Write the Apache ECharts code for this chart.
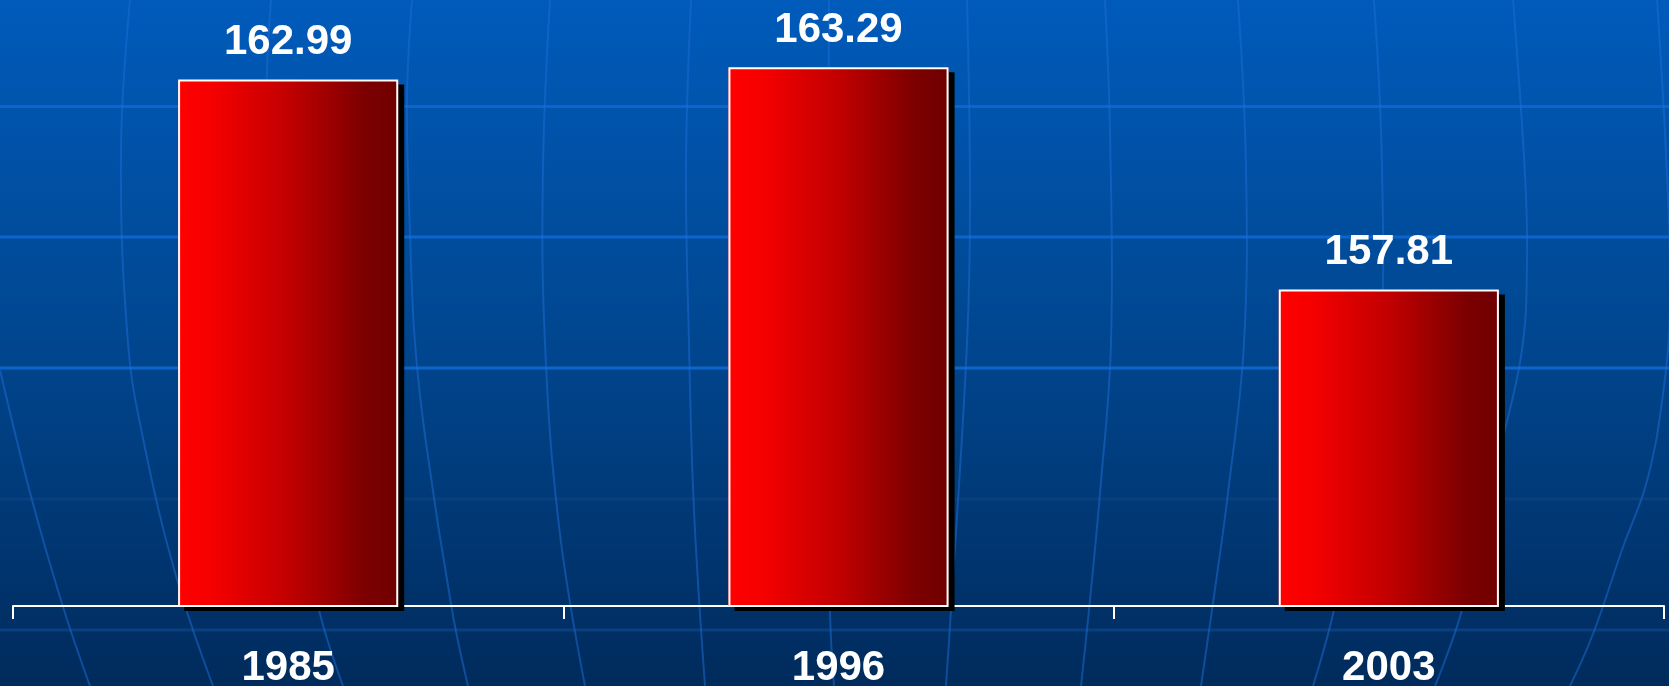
<!DOCTYPE html>
<html>
<head>
<meta charset="utf-8">
<title>Bar chart</title>
<script src="https://cdn.jsdelivr.net/npm/echarts@6/dist/echarts.min.js"></script>
<style>
  html, body { margin: 0; padding: 0; }
  #chart { width: 1669px; height: 686px; }
</style>
</head>
<body>
<div id="chart"></div>
<script>
// data
const categories = ['1985', '1996', '2003'];
const values = [162.99, 163.29, 157.81];
const yMin = 150;
const yMax = 165;

// background decoration (globe grid)
const hLines = [
  { y: 106.5, color: '#0a66cc' },
  { y: 237, color: '#0a66cc' },
  { y: 368, color: '#0a66cc' },
  { y: 499, color: '#0b3f80' },
  { y: 630, color: '#0b3f80' }
];
const meridians = [
  [[0, 370], [32, 500], [64, 610], [90, 686]],
  [[130, 0], [121, 150], [128, 343], [144, 443], [176, 576], [213, 686]],
  [[271, 0], [266, 120], [272, 300], [292, 480], [319, 610], [343, 686]],
  [[412, 0], [407, 100], [410, 233], [415, 343], [426, 443], [452, 610], [468, 686]],
  [[550, 0], [543, 167], [545, 343], [559, 526], [585, 686]],
  [[691, 0], [686, 167], [689, 343], [694, 510], [705, 686]],
  [[829, 0], [828, 343], [830, 610], [834, 686]],
  [[967, 0], [970, 200], [967, 343], [951, 610], [946, 686]],
  [[1105, 0], [1110, 133], [1111, 343], [1100, 493], [1089, 610], [1081, 686]],
  [[1238, 0], [1246, 167], [1244, 343], [1228, 493], [1212, 610], [1201, 686]],
  [[1374, 0], [1382, 167], [1380, 343], [1360, 480], [1334, 610], [1313, 686]],
  [[1513, 0], [1525, 175], [1527, 262], [1522, 350], [1500, 450], [1462, 610], [1435, 686]],
  [[1657, 0], [1667, 175], [1670, 306], [1663, 394], [1647, 481], [1623, 547], [1593, 634], [1570, 686]]
];

const myChart = echarts.init(document.getElementById('chart'));

const graphics = [];
hLines.forEach((l) => {
  graphics.push({
    type: 'line',
    z: -10,
    silent: true,
    shape: { x1: 0, y1: l.y, x2: 1669, y2: l.y },
    style: { stroke: l.color, lineWidth: 3 }
  });
});
meridians.forEach((pts) => {
  graphics.push({
    type: 'polyline',
    z: -10,
    silent: true,
    shape: { points: pts, smooth: 0.4 },
    style: { stroke: 'rgba(30, 110, 215, 0.5)', lineWidth: 2, fill: null }
  });
});

const option = {
  backgroundColor: new echarts.graphic.LinearGradient(0, 0, 0, 1, [
    { offset: 0, color: '#005bbb' },
    { offset: 0.5, color: '#00468f' },
    { offset: 1, color: '#002b5c' }
  ]),
  animation: false,
  graphic: graphics,
  grid: {
    left: 13,
    right: 5,
    top: -2,
    bottom: 80,
    outerBoundsMode: 'none',
    containLabel: false
  },
  xAxis: {
    type: 'category',
    data: categories,
    axisLine: {
      show: true,
      lineStyle: { color: '#ffffff', width: 2 }
    },
    axisTick: {
      show: true,
      alignWithLabel: false,
      length: 13,
      lineStyle: { color: '#ffffff', width: 2 }
    },
    axisLabel: {
      margin: 41,
      color: '#ffffff',
      fontFamily: 'Liberation Sans, Arial, sans-serif',
      fontWeight: 'bold',
      fontSize: 42
    }
  },
  yAxis: {
    type: 'value',
    min: yMin,
    max: yMax,
    show: false,
    splitLine: { show: false }
  },
  series: [
    {
      // 填充 + 阴影
      type: 'bar',
      data: values,
      barWidth: '40%',
      itemStyle: {
        color: new echarts.graphic.LinearGradient(0, 0, 1, 0, [
          { offset: 0, color: '#ff0000' },
          { offset: 0.15, color: '#f60000' },
          { offset: 0.5, color: '#c20000' },
          { offset: 0.85, color: '#7c0000' },
          { offset: 1, color: '#700000' }
        ]),
        borderWidth: 0,
        shadowColor: '#000000',
        shadowBlur: 0,
        shadowOffsetX: 6,
        shadowOffsetY: 5
      },
      label: {
        show: true,
        position: 'top',
        distance: 16,
        color: '#ffffff',
        fontFamily: 'Liberation Sans, Arial, sans-serif',
        fontWeight: 'bold',
        fontSize: 42
      }
    },
    {
      // 白色边框
      type: 'bar',
      data: values,
      barWidth: '40%',
      barGap: '-100%',
      silent: true,
      itemStyle: {
        color: 'rgba(0,0,0,0)',
        borderColor: '#ffffff',
        borderWidth: 2
      }
    }
  ]
};

myChart.setOption(option);
</script>
</body>
</html>
